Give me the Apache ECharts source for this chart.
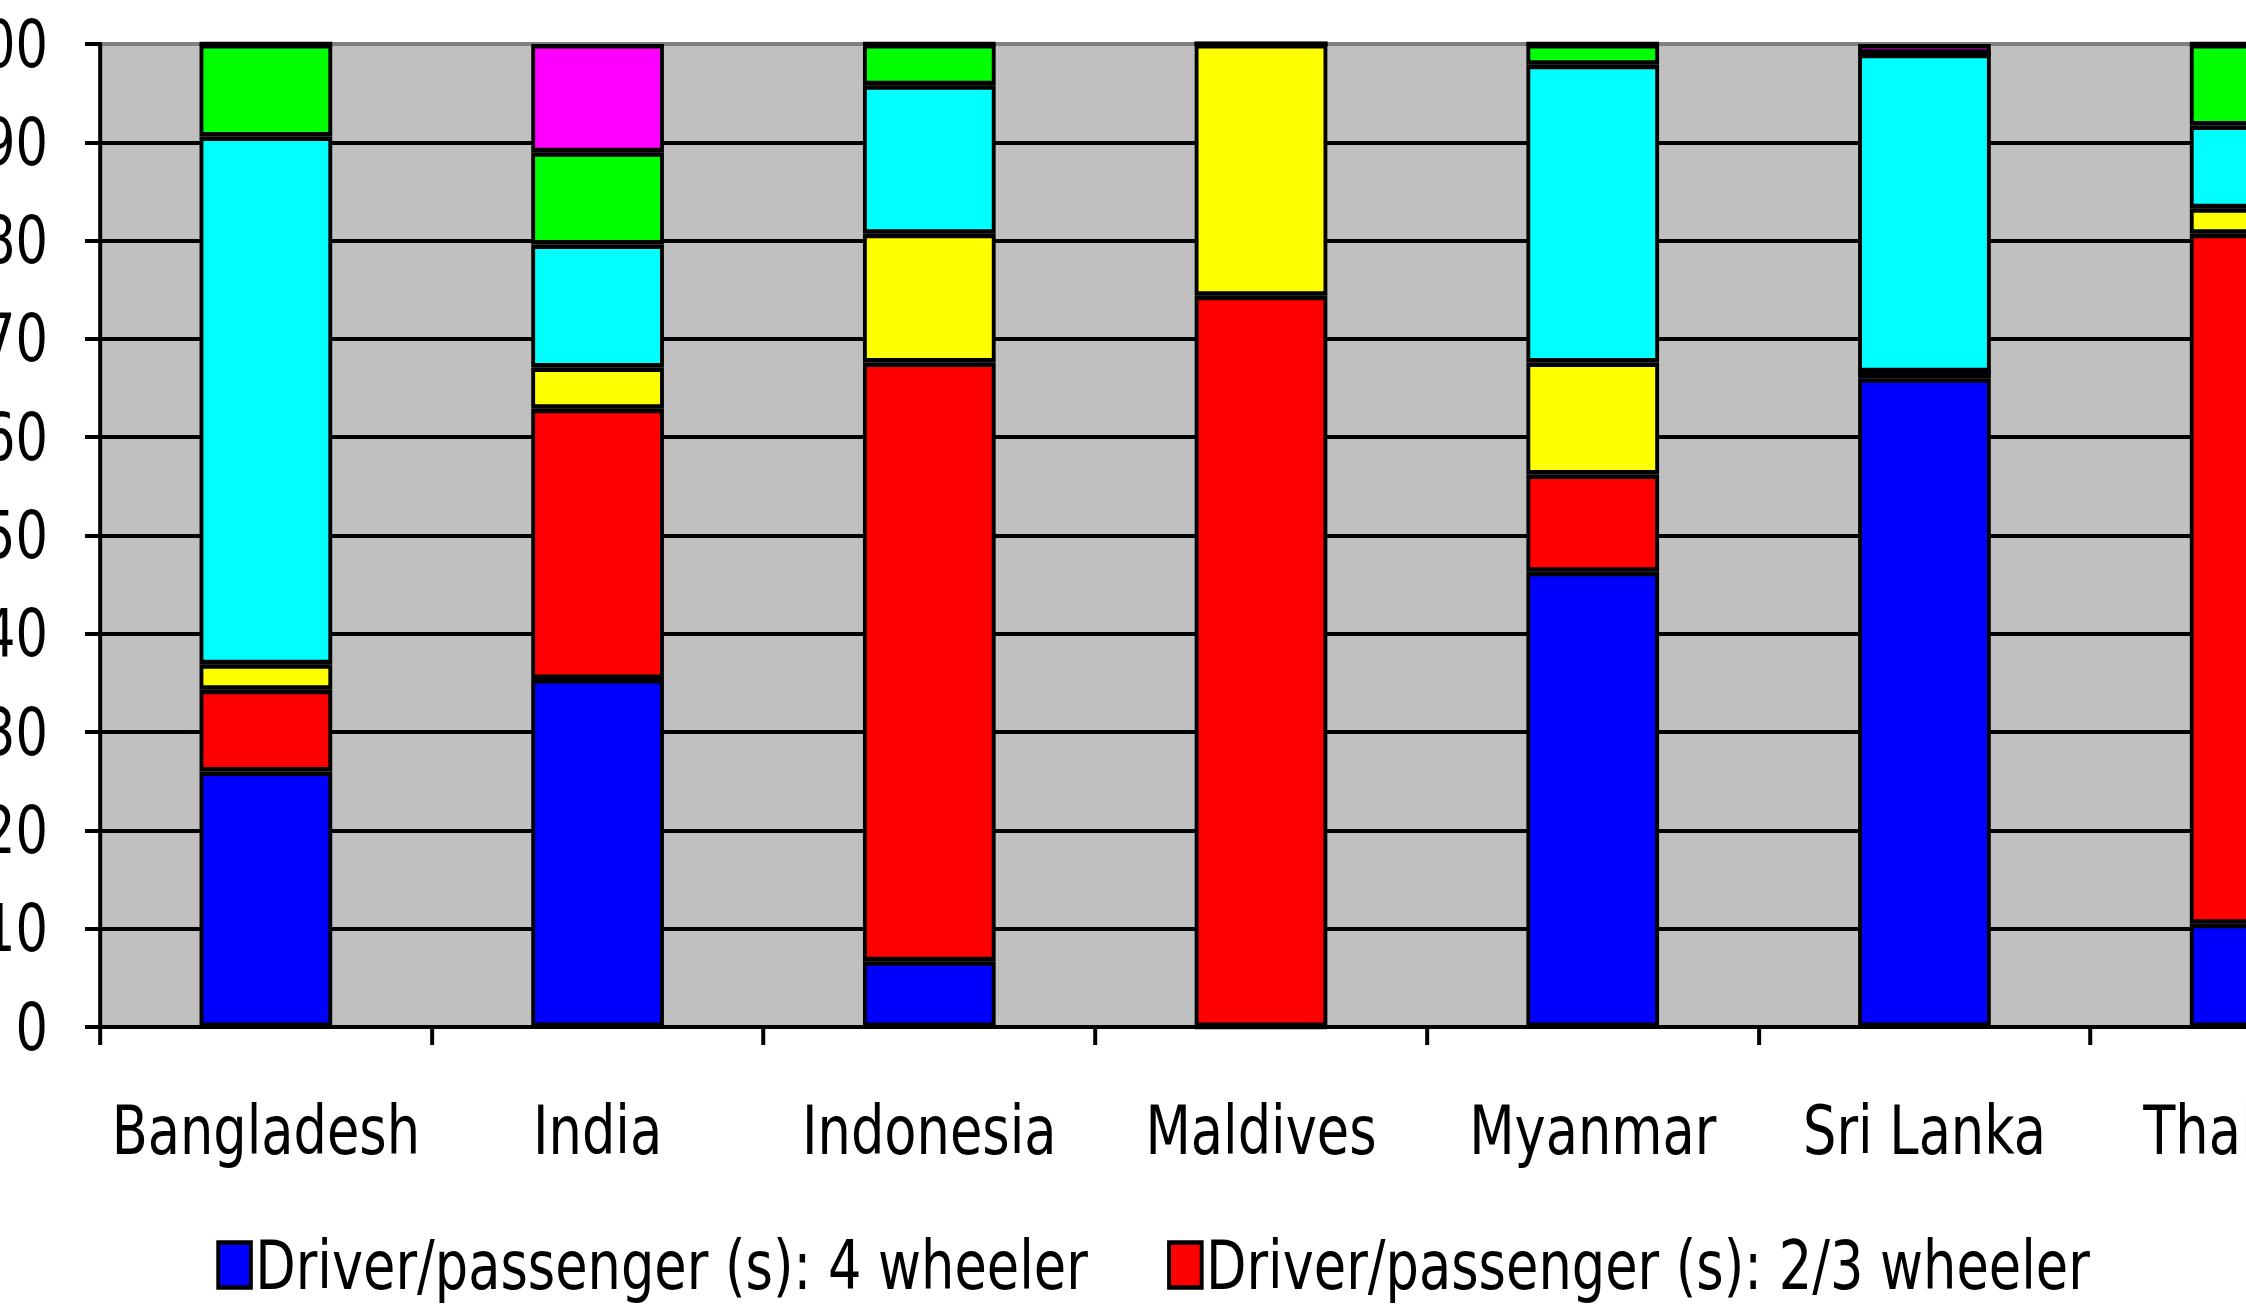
<!DOCTYPE html>
<html>
<head>
<meta charset="utf-8">
<title>Road traffic deaths by road user type</title>
<script src="https://cdn.jsdelivr.net/npm/echarts@6/dist/echarts.min.js"></script>
<style>
  html, body { margin: 0; padding: 0; background: #ffffff; overflow: hidden; }
  /* The chart is laid out wider and squeezed horizontally so the lettering
     gets the narrow, tall look of the original sheet. */
  #chart {
    width: 2612px;
    height: 1306px;
    transform: scaleX(0.86);
    transform-origin: 0 0;
  }
</style>
</head>
<body>
<div id="chart"></div>
<script>
// Countries along the category axis
const countries = ['Bangladesh', 'India', 'Indonesia', 'Maldives', 'Myanmar', 'Sri Lanka', 'Thailand'];

// Share of deaths (%) by road user type, one array per stacked segment
const fourWheeler   = [26.0, 35.4,  6.7,  0.0, 46.3, 66.0, 10.5];
const twoThreeWheel = [ 8.3, 27.5, 60.9, 74.4,  9.9,  0.6, 70.2];
const cyclist       = [ 2.6,  4.2, 13.1, 25.6, 11.4,  0.0,  2.6];
const pedestrian    = [53.7, 12.5, 15.1,  0.0, 30.3, 32.4,  8.4];
const others        = [ 9.4,  9.4,  4.2,  0.0,  2.1,  0.0,  8.3];
const notKnown      = [ 0.0, 11.0,  0.0,  0.0,  0.0,  1.0,  0.0];

// Value axis ticks
const yTicks = [0, 10, 20, 30, 40, 50, 60, 70, 80, 90, 100];

const seriesDefs = [
  { name: 'Driver/passenger (s): 4 wheeler',   data: fourWheeler,   color: '#0000ff' },
  { name: 'Driver/passenger (s): 2/3 wheeler', data: twoThreeWheel, color: '#ff0000' },
  { name: 'Cyclist',                           data: cyclist,       color: '#ffff00' },
  { name: 'Pedestrian',                        data: pedestrian,    color: '#00ffff' },
  { name: 'Others',                            data: others,        color: '#00ff00' },
  { name: 'Not known',                         data: notKnown,      color: '#ff00ff' }
];

const FONT = "'DejaVu Sans Condensed', 'DejaVu Sans', sans-serif";

// Grid lines: black inside the plot, the top edge is the grey plot frame
const splitColors = yTicks.map((t, i) => (i === yTicks.length - 1 ? '#808080' : '#000000'));

const chart = echarts.init(document.getElementById('chart'), null, { renderer: 'svg' });

chart.setOption({
  backgroundColor: '#ffffff',
  animation: false,
  grid: {
    left: 116.3,
    top: 44,
    width: 2700,
    height: 983,
    containLabel: false,
    outerBoundsMode: 'none',
    show: true,
    backgroundColor: '#c0c0c0',
    borderWidth: 0
  },
  legend: {
    show: true,
    left: 246.5,
    top: 1226,
    width: 2250,
    itemWidth: 38,
    itemHeight: 45,
    itemGap: 92,
    icon: 'rect',
    itemStyle: { borderColor: '#000000', borderWidth: 4.5 },
    textStyle: { fontFamily: FONT, fontSize: 68, color: '#000000', padding: [34, 0, 0, 0] },
    data: seriesDefs.map(s => s.name)
  },
  xAxis: {
    type: 'category',
    data: countries,
    boundaryGap: true,
    axisLine: { show: true, lineStyle: { color: '#000000', width: 4 } },
    axisTick: { show: true, inside: false, length: 18, alignWithLabel: false, lineStyle: { color: '#000000', width: 4.65 } },
    axisLabel: { interval: 0, margin: 69, fontFamily: FONT, fontSize: 68, color: '#000000' },
    splitLine: { show: false }
  },
  yAxis: {
    type: 'value',
    min: yTicks[0],
    max: yTicks[yTicks.length - 1],
    interval: yTicks[1] - yTicks[0],
    axisLine: { show: true, lineStyle: { color: '#000000', width: 4.65 } },
    axisTick: { show: true, inside: false, length: 17.5, lineStyle: { color: '#000000', width: 4 } },
    axisLabel: { margin: 60.5, fontFamily: FONT, fontSize: 66, color: '#000000' },
    splitLine: { show: true, lineStyle: { color: splitColors, width: 4 } }
  },
  series: seriesDefs.map(s => ({
    name: s.name,
    type: 'bar',
    stack: 'share',
    barWidth: '40%',
    data: s.data,
    itemStyle: { color: s.color, borderColor: '#000000', borderWidth: 4.5 },
    emphasis: { disabled: true }
  }))
});
</script>
</body>
</html>
